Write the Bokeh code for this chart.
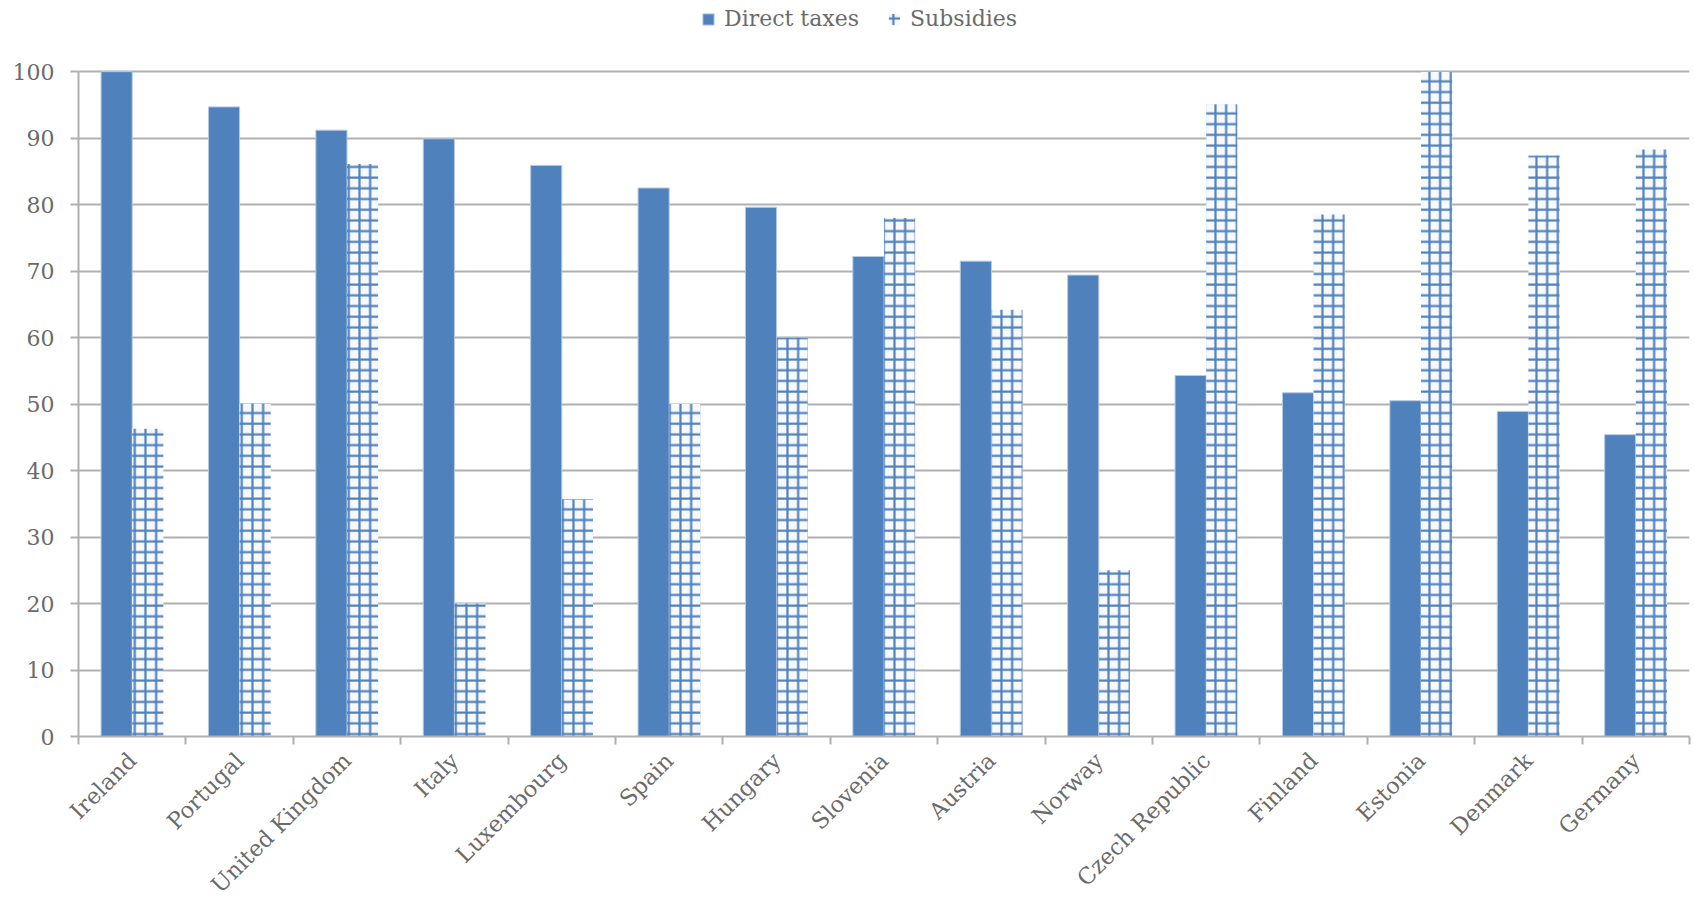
import math
import numpy as np
from bokeh.plotting import figure
from bokeh.models import Range1d, FixedTicker, Legend, LegendItem
from bokeh.embed import file_html
from bokeh.resources import INLINE

countries = ["Ireland", "Portugal", "United Kingdom", "Italy", "Luxembourg", "Spain",
             "Hungary", "Slovenia", "Austria", "Norway", "Czech Republic", "Finland",
             "Estonia", "Denmark", "Germany"]
direct_taxes = [100, 94.7, 91.2, 89.9, 85.9, 82.5, 79.6, 72.2, 71.5, 69.4, 54.3, 51.7, 50.5, 48.9, 45.4]
subsidies = [46.3, 50.1, 86.1, 20.0, 35.7, 50.0, 60.0, 78.0, 64.2, 25.0, 95.1, 78.5, 100, 87.4, 88.3]
y_ticks = [0, 10, 20, 30, 40, 50, 60, 70, 80, 90, 100]

FONT = "DejaVu Serif"
TEXT = "#6b6b6b"
GRID = "#b0b0b0"
BLUE = "#4f81bd"

n = len(countries)
centers = np.arange(n) + 0.5
bw = 0.29

p = figure(frame_width=1611, frame_height=736, output_backend="svg", toolbar_location=None,
           x_range=Range1d(0, n), y_range=Range1d(0, 110.7),
           min_border_left=78, min_border_right=5, min_border_top=0, min_border_bottom=0)
p.outline_line_color = None
p.background_fill_color = "white"

dt = p.vbar(x=centers - bw / 2, top=direct_taxes, width=bw, bottom=0,
            fill_color=BLUE, line_color="#b4c9e4", line_width=1)
sb = p.vbar(x=centers + bw / 2, top=subsidies, width=bw, bottom=0,
            fill_color="#f7f9fc", line_color=None,
            hatch_pattern="+", hatch_color=BLUE, hatch_scale=10.7, hatch_weight=2.2)

# x axis
p.xaxis.ticker = FixedTicker(ticks=list(centers), minor_ticks=list(np.arange(n + 1)))
p.xaxis.major_label_overrides = {float(c): name for c, name in zip(centers, countries)}
p.xaxis.major_label_orientation = math.pi / 4
p.xaxis.major_tick_line_color = None
p.xaxis.minor_tick_in = 0
p.xaxis.minor_tick_out = 8
p.xaxis.minor_tick_line_color = GRID
p.xaxis.minor_tick_line_width = 2
p.xaxis.axis_line_color = GRID
p.xaxis.axis_line_width = 2
p.xaxis.major_label_text_font = FONT
p.xaxis.major_label_text_font_size = "22.5px"
p.xaxis.major_label_text_color = TEXT
p.xaxis.major_label_standoff = 12
p.xgrid.grid_line_color = None

# y axis
p.yaxis.ticker = FixedTicker(ticks=y_ticks)
p.yaxis.bounds = (0, 100)
p.yaxis.minor_tick_line_color = None
p.yaxis.major_tick_in = 0
p.yaxis.major_tick_out = 8
p.yaxis.major_tick_line_color = GRID
p.yaxis.major_tick_line_width = 2
p.yaxis.axis_line_color = GRID
p.yaxis.axis_line_width = 2
p.yaxis.major_label_text_font = FONT
p.yaxis.major_label_text_font_size = "22px"
p.yaxis.major_label_text_color = TEXT
p.yaxis.major_label_standoff = 16
p.ygrid.grid_line_color = GRID
p.ygrid.grid_line_width = 2

legend = Legend(items=[LegendItem(label="Direct taxes", renderers=[dt]),
                       LegendItem(label="Subsidies", renderers=[sb])],
                orientation="horizontal", location=(623, 705),
                padding=0, margin=0, spacing=28, label_standoff=9,
                glyph_width=14, glyph_height=14, label_height=24,
                label_text_font=FONT, label_text_font_size="22px",
                label_text_color=TEXT, border_line_color=None,
                background_fill_alpha=0)
p.add_layout(legend, "center")

open("out.html", "w").write(file_html(p, INLINE))
